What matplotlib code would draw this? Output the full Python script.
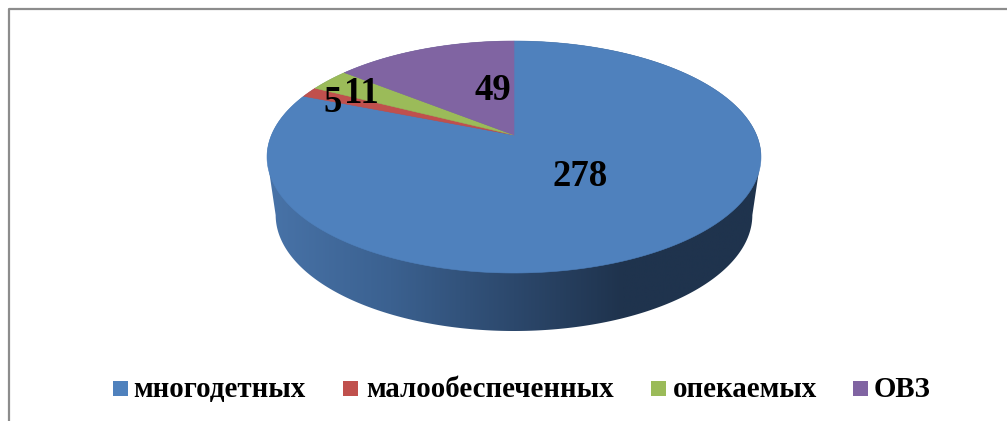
#!/usr/bin/env python3
import matplotlib
matplotlib.use('Agg')
import matplotlib.pyplot as plt
from matplotlib.colors import LinearSegmentedColormap
from matplotlib.patches import Rectangle
import numpy as np

categories = ['многодетных', 'малообеспеченных', 'опекаемых', 'ОВЗ']
values = [278, 5, 11, 49]
colors = ['#4F81BD', '#C0504D', '#9BBB59', '#8064A2']

# pie geometry in pixels, the apex sits above the middle of the ellipse (perspective)
APEX_X = 514
APEX_Y = 135
UP = 94
DOWN = 138
SIDE_W = 242.5
DEPTH = 58
BOTTOM_SCALE = 0.965


def project(angle):
    # angle clockwise from the top of the pie
    x = np.sin(angle)
    y = np.cos(angle)
    a = 2 / (1 / UP + 1 / DOWN)
    b = a / UP - 1
    den = 1 + b * y
    return APEX_X + SIDE_W * x / den, APEX_Y - a * y / den


def main():
    fig = plt.figure(figsize=(10.07, 4.21), dpi=100)
    ax = fig.add_axes([0, 0, 1, 1])

    # frame, only top and left are visible
    ax.plot([9, 9, 1007], [421, 9, 9], color='#8c8c8c', lw=1.6)

    # side of the pie: rim above the widest points, then a narrower bottom rim below them
    t = np.linspace(0, 2 * np.pi, 721)[:-1]
    ex, ey = project(t)
    mid_x = (ex.min() + ex.max()) / 2
    i_right = int(np.argmax(ex))
    i_left = int(np.argmin(ex))
    upper = np.r_[i_left:720, 0:i_right + 1]
    lower = np.arange(i_right, i_left + 1)
    sx = np.r_[ex[upper], mid_x + (ex[lower] - mid_x) * BOTTOM_SCALE]
    sy = np.r_[ey[upper], ey[lower] + DEPTH]
    shade = LinearSegmentedColormap.from_list(
        'side', [(0, '#4873A8'), (0.25, '#3B6190'), (0.5, '#2C486C'), (0.72, '#1F334D'), (1, '#1F334D')])
    im = ax.imshow(np.linspace(0, 1, 256).reshape(1, -1), cmap=shade, aspect='auto',
                   extent=[ex.min(), ex.max(), sy.max(), ey.min()], zorder=2)
    clip = ax.fill(sx, sy, color='none', zorder=2)[0]
    im.set_clip_path(clip)

    ax.set_xlim(0, 1007)
    ax.set_ylim(421, 0)
    ax.axis('off')

    # top of the pie, clockwise from 12 o'clock
    edges = np.cumsum([0] + values) / sum(values) * 2 * np.pi
    for i in range(len(values)):
        a = np.linspace(edges[i], edges[i + 1], 300)
        px, py = project(a)
        ax.fill(np.r_[APEX_X, px], np.r_[APEX_Y, py], color=colors[i], lw=0.4, zorder=3)

    # data labels
    label_pos = [(580, 176), (333, 102), (361.5, 93.5), (492.5, 91)]
    for v, (x, y) in zip(values, label_pos):
        ax.text(x, y, str(v), fontsize=26.5, fontweight='bold', family='Liberation Serif',
                ha='center', va='center', color='black', zorder=4)

    # legend by hand, ax.legend puts the labels on different baselines
    swatch_x = [113, 343, 651, 853]
    text_x = [133, 366, 673, 874]
    for i in range(len(categories)):
        ax.add_patch(Rectangle((swatch_x[i], 381), 14.5, 15, color=colors[i], lw=0, zorder=4))
        ax.text(text_x[i], 397, categories[i], fontsize=20.8, fontweight='bold', family='Liberation Serif',
                ha='left', va='baseline', color='black', zorder=4)

    fig.savefig('out.png', dpi=100)


if __name__ == "__main__":
    main()
